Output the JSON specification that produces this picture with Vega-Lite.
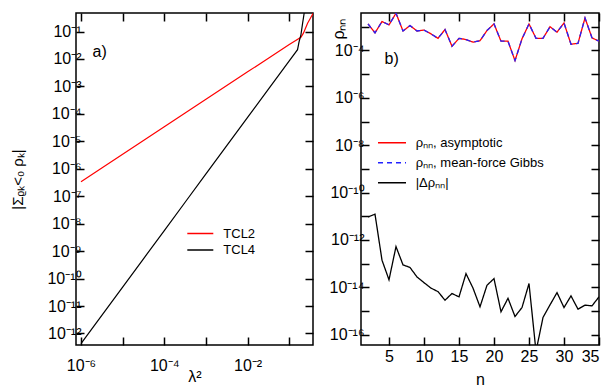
{
  "$schema": "https://vega.github.io/schema/vega-lite/v6.json",
  "padding": {"left": 10, "top": 11, "right": 0, "bottom": 0},
  "spacing": 48,
  "bounds": "flush",
  "resolve": {"scale": {"color": "independent", "strokeDash": "independent"}, "legend": {"color": "independent", "strokeDash": "independent"}},
  "config": {
    "font": "Liberation Sans",
    "view": {"stroke": "#000", "strokeWidth": 1.5},
    "axis": {"domain": false, "grid": false, "tickColor": "#000", "tickWidth": 1.5, "tickSize": -8, "labelFontSize": 16, "labelColor": "#000", "titleFontSize": 16, "titleColor": "#000", "titleFontWeight": "normal", "labelPadding": 4, "labelFont": "Liberation Sans", "titleFont": "Liberation Sans"},
    "legend": {"labelFontSize": 13, "labelColor": "#000", "labelFont": "Liberation Sans", "padding": 0, "symbolStrokeWidth": 1.5, "labelLimit": 300}
  },
  "hconcat": [
    {
      "width": 237,
      "height": 332,
      "data": {"values": [
        {"lam2": 1e-6, "val": 3.39e-7, "series": "TCL2"},
        {"lam2": 3.162e-6, "val": 1.07e-6, "series": "TCL2"},
        {"lam2": 1e-5, "val": 3.39e-6, "series": "TCL2"},
        {"lam2": 3.162e-5, "val": 1.07e-5, "series": "TCL2"},
        {"lam2": 1e-4, "val": 3.39e-5, "series": "TCL2"},
        {"lam2": 3.162e-4, "val": 1.07e-4, "series": "TCL2"},
        {"lam2": 1e-3, "val": 3.39e-4, "series": "TCL2"},
        {"lam2": 3.162e-3, "val": 1.07e-3, "series": "TCL2"},
        {"lam2": 1e-2, "val": 3.39e-3, "series": "TCL2"},
        {"lam2": 3.162e-2, "val": 1.07e-2, "series": "TCL2"},
        {"lam2": 0.1, "val": 3.39e-2, "series": "TCL2"},
        {"lam2": 0.1905, "val": 0.0617, "series": "TCL2"},
        {"lam2": 0.2188, "val": 0.0871, "series": "TCL2"},
        {"lam2": 0.2754, "val": 0.1995, "series": "TCL2"},
        {"lam2": 0.3802, "val": 0.479, "series": "TCL2"},
        {"lam2": 1e-6, "val": 4.27e-13, "series": "TCL4"},
        {"lam2": 3.162e-6, "val": 4.57e-12, "series": "TCL4"},
        {"lam2": 1e-5, "val": 4.9e-11, "series": "TCL4"},
        {"lam2": 3.162e-5, "val": 5.25e-10, "series": "TCL4"},
        {"lam2": 1e-4, "val": 5.62e-9, "series": "TCL4"},
        {"lam2": 3.162e-4, "val": 6.03e-8, "series": "TCL4"},
        {"lam2": 1e-3, "val": 6.46e-7, "series": "TCL4"},
        {"lam2": 3.162e-3, "val": 6.92e-6, "series": "TCL4"},
        {"lam2": 1e-2, "val": 7.41e-5, "series": "TCL4"},
        {"lam2": 3.162e-2, "val": 7.94e-4, "series": "TCL4"},
        {"lam2": 0.1, "val": 8.51e-3, "series": "TCL4"},
        {"lam2": 0.158, "val": 0.0219, "series": "TCL4"},
        {"lam2": 0.1718, "val": 0.0417, "series": "TCL4"},
        {"lam2": 0.1905, "val": 0.0759, "series": "TCL4"},
        {"lam2": 0.2089, "val": 0.1995, "series": "TCL4"},
        {"lam2": 0.2291, "val": 0.49, "series": "TCL4"}
      ]},
      "layer": [
        {
          "mark": {"type": "line", "strokeWidth": 1.2, "clip": true},
          "encoding": {
            "x": {"field": "lam2", "type": "quantitative",
              "scale": {"type": "log", "domain": [7.59e-7, 0.3715], "nice": false},
              "axis": {"orient": "bottom", "values": [1e-6, 1e-5, 1e-4, 1e-3, 1e-2, 1e-1], "labelPadding": 20,
                "labelExpr": "round(-log(datum.value)/LN10) % 2 == 0 ? '10⁻' + substring('⁰¹²³⁴⁵⁶⁷⁸⁹', round(-log(datum.value)/LN10) % 10, round(-log(datum.value)/LN10) % 10 + 1) : ''",
                "title": "λ²", "titleY": 36, "titleBaseline": "alphabetic"}},
            "y": {"field": "val", "type": "quantitative",
              "scale": {"type": "log", "domain": [3.8e-13, 0.473], "nice": false},
              "axis": {"orient": "left", "values": [1e-1, 1e-2, 1e-3, 1e-4, 1e-5, 1e-6, 1e-7, 1e-8, 1e-9, 1e-10, 1e-11, 1e-12], "labelPadding": 3,
                "labelExpr": "'10⁻' + (round(-log(datum.value)/LN10) >= 10 ? '¹' : '') + substring('⁰¹²³⁴⁵⁶⁷⁸⁹', round(-log(datum.value)/LN10) % 10, round(-log(datum.value)/LN10) % 10 + 1)",
                "title": "|Σᵨₖ<₀ ρₖ|", "titleFontSize": 15, "titlePadding": 21}},
            "color": {"field": "series", "type": "nominal",
              "scale": {"domain": ["TCL2", "TCL4"], "range": ["#ff0000", "#000000"]},
              "legend": {"orient": "none", "legendX": 116.8, "legendY": 213, "title": null, "symbolType": "M-2,0H2", "symbolSize": 169, "labelOffset": 15.5, "rowPadding": 1.5}}
          }
        },
        {
          "mark": {"type": "line", "strokeOpacity": 0},
          "encoding": {
            "x": {"field": "lam2", "type": "quantitative",
              "scale": {"type": "log", "domain": [7.59e-7, 0.3715], "nice": false},
              "axis": {"orient": "top", "values": [1e-6, 1e-5, 1e-4, 1e-3, 1e-2, 1e-1], "labels": false, "title": null}},
            "y": {"field": "val", "type": "quantitative",
              "scale": {"type": "log", "domain": [3.8e-13, 0.473], "nice": false},
              "axis": {"orient": "right", "values": [1e-1, 1e-2, 1e-3, 1e-4, 1e-5, 1e-6, 1e-7, 1e-8, 1e-9, 1e-10, 1e-11, 1e-12], "labels": false, "title": null}}
          }
        },
        {
          "data": {"values": [{"label": "a)"}]},
          "mark": {"type": "text", "align": "left", "baseline": "alphabetic", "fontSize": 16, "font": "Liberation Sans", "color": "#000"},
          "encoding": {
            "x": {"datum": 1.9e-6, "type": "quantitative", "axis": null},
            "y": {"datum": 0.0123, "type": "quantitative", "axis": null},
            "text": {"field": "label"}
          }
        }
      ]
    },
    {
      "width": 238,
      "height": 332,
      "data": {"values": [
        {"n": 2, "v": 1.318e-3, "s": "ρₙₙ, asymptotic"},
        {"n": 3, "v": 5.5e-4, "s": "ρₙₙ, asymptotic"},
        {"n": 4, "v": 1.66e-3, "s": "ρₙₙ, asymptotic"},
        {"n": 5, "v": 1.2e-3, "s": "ρₙₙ, asymptotic"},
        {"n": 6, "v": 3.72e-3, "s": "ρₙₙ, asymptotic"},
        {"n": 7, "v": 6.61e-4, "s": "ρₙₙ, asymptotic"},
        {"n": 8, "v": 1.12e-3, "s": "ρₙₙ, asymptotic"},
        {"n": 9, "v": 6.61e-4, "s": "ρₙₙ, asymptotic"},
        {"n": 10, "v": 7.24e-4, "s": "ρₙₙ, asymptotic"},
        {"n": 11, "v": 5.01e-4, "s": "ρₙₙ, asymptotic"},
        {"n": 12, "v": 3.24e-4, "s": "ρₙₙ, asymptotic"},
        {"n": 13, "v": 7.59e-4, "s": "ρₙₙ, asymptotic"},
        {"n": 14, "v": 1.51e-4, "s": "ρₙₙ, asymptotic"},
        {"n": 15, "v": 3.24e-4, "s": "ρₙₙ, asymptotic"},
        {"n": 16, "v": 2.88e-4, "s": "ρₙₙ, asymptotic"},
        {"n": 17, "v": 2.24e-4, "s": "ρₙₙ, asymptotic"},
        {"n": 18, "v": 2.57e-4, "s": "ρₙₙ, asymptotic"},
        {"n": 19, "v": 6.92e-4, "s": "ρₙₙ, asymptotic"},
        {"n": 20, "v": 1.318e-3, "s": "ρₙₙ, asymptotic"},
        {"n": 21, "v": 2.45e-4, "s": "ρₙₙ, asymptotic"},
        {"n": 22, "v": 2.45e-4, "s": "ρₙₙ, asymptotic"},
        {"n": 23, "v": 3.72e-5, "s": "ρₙₙ, asymptotic"},
        {"n": 24, "v": 3.09e-4, "s": "ρₙₙ, asymptotic"},
        {"n": 25, "v": 1.318e-3, "s": "ρₙₙ, asymptotic"},
        {"n": 26, "v": 3.24e-4, "s": "ρₙₙ, asymptotic"},
        {"n": 27, "v": 3.24e-4, "s": "ρₙₙ, asymptotic"},
        {"n": 28, "v": 1.0e-3, "s": "ρₙₙ, asymptotic"},
        {"n": 29, "v": 5.89e-4, "s": "ρₙₙ, asymptotic"},
        {"n": 30, "v": 1.445e-3, "s": "ρₙₙ, asymptotic"},
        {"n": 31, "v": 1.82e-4, "s": "ρₙₙ, asymptotic"},
        {"n": 32, "v": 2.0e-4, "s": "ρₙₙ, asymptotic"},
        {"n": 33, "v": 2.34e-3, "s": "ρₙₙ, asymptotic"},
        {"n": 34, "v": 3.39e-4, "s": "ρₙₙ, asymptotic"},
        {"n": 35, "v": 2.45e-4, "s": "ρₙₙ, asymptotic"},
        {"n": 2, "v": 1.318e-3, "s": "ρₙₙ, mean-force Gibbs"},
        {"n": 3, "v": 5.5e-4, "s": "ρₙₙ, mean-force Gibbs"},
        {"n": 4, "v": 1.66e-3, "s": "ρₙₙ, mean-force Gibbs"},
        {"n": 5, "v": 1.2e-3, "s": "ρₙₙ, mean-force Gibbs"},
        {"n": 6, "v": 3.72e-3, "s": "ρₙₙ, mean-force Gibbs"},
        {"n": 7, "v": 6.61e-4, "s": "ρₙₙ, mean-force Gibbs"},
        {"n": 8, "v": 1.12e-3, "s": "ρₙₙ, mean-force Gibbs"},
        {"n": 9, "v": 6.61e-4, "s": "ρₙₙ, mean-force Gibbs"},
        {"n": 10, "v": 7.24e-4, "s": "ρₙₙ, mean-force Gibbs"},
        {"n": 11, "v": 5.01e-4, "s": "ρₙₙ, mean-force Gibbs"},
        {"n": 12, "v": 3.24e-4, "s": "ρₙₙ, mean-force Gibbs"},
        {"n": 13, "v": 7.59e-4, "s": "ρₙₙ, mean-force Gibbs"},
        {"n": 14, "v": 1.51e-4, "s": "ρₙₙ, mean-force Gibbs"},
        {"n": 15, "v": 3.24e-4, "s": "ρₙₙ, mean-force Gibbs"},
        {"n": 16, "v": 2.88e-4, "s": "ρₙₙ, mean-force Gibbs"},
        {"n": 17, "v": 2.24e-4, "s": "ρₙₙ, mean-force Gibbs"},
        {"n": 18, "v": 2.57e-4, "s": "ρₙₙ, mean-force Gibbs"},
        {"n": 19, "v": 6.92e-4, "s": "ρₙₙ, mean-force Gibbs"},
        {"n": 20, "v": 1.318e-3, "s": "ρₙₙ, mean-force Gibbs"},
        {"n": 21, "v": 2.45e-4, "s": "ρₙₙ, mean-force Gibbs"},
        {"n": 22, "v": 2.45e-4, "s": "ρₙₙ, mean-force Gibbs"},
        {"n": 23, "v": 3.72e-5, "s": "ρₙₙ, mean-force Gibbs"},
        {"n": 24, "v": 3.09e-4, "s": "ρₙₙ, mean-force Gibbs"},
        {"n": 25, "v": 1.318e-3, "s": "ρₙₙ, mean-force Gibbs"},
        {"n": 26, "v": 3.24e-4, "s": "ρₙₙ, mean-force Gibbs"},
        {"n": 27, "v": 3.24e-4, "s": "ρₙₙ, mean-force Gibbs"},
        {"n": 28, "v": 1.0e-3, "s": "ρₙₙ, mean-force Gibbs"},
        {"n": 29, "v": 5.89e-4, "s": "ρₙₙ, mean-force Gibbs"},
        {"n": 30, "v": 1.445e-3, "s": "ρₙₙ, mean-force Gibbs"},
        {"n": 31, "v": 1.82e-4, "s": "ρₙₙ, mean-force Gibbs"},
        {"n": 32, "v": 2.0e-4, "s": "ρₙₙ, mean-force Gibbs"},
        {"n": 33, "v": 2.34e-3, "s": "ρₙₙ, mean-force Gibbs"},
        {"n": 34, "v": 3.39e-4, "s": "ρₙₙ, mean-force Gibbs"},
        {"n": 35, "v": 2.45e-4, "s": "ρₙₙ, mean-force Gibbs"},
        {"n": 2, "v": 9.33e-12, "s": "|Δρₙₙ|"},
        {"n": 3, "v": 1.23e-11, "s": "|Δρₙₙ|"},
        {"n": 4, "v": 1.41e-13, "s": "|Δρₙₙ|"},
        {"n": 5, "v": 2.09e-14, "s": "|Δρₙₙ|"},
        {"n": 6, "v": 5.25e-13, "s": "|Δρₙₙ|"},
        {"n": 7, "v": 8.91e-14, "s": "|Δρₙₙ|"},
        {"n": 8, "v": 6.92e-14, "s": "|Δρₙₙ|"},
        {"n": 9, "v": 2.75e-14, "s": "|Δρₙₙ|"},
        {"n": 10, "v": 1.58e-14, "s": "|Δρₙₙ|"},
        {"n": 11, "v": 9.33e-15, "s": "|Δρₙₙ|"},
        {"n": 12, "v": 6.61e-15, "s": "|Δρₙₙ|"},
        {"n": 13, "v": 2.88e-15, "s": "|Δρₙₙ|"},
        {"n": 14, "v": 5.5e-15, "s": "|Δρₙₙ|"},
        {"n": 15, "v": 3.98e-15, "s": "|Δρₙₙ|"},
        {"n": 16, "v": 3.8e-14, "s": "|Δρₙₙ|"},
        {"n": 17, "v": 9.33e-15, "s": "|Δρₙₙ|"},
        {"n": 18, "v": 1.51e-15, "s": "|Δρₙₙ|"},
        {"n": 19, "v": 1.23e-14, "s": "|Δρₙₙ|"},
        {"n": 20, "v": 2.34e-14, "s": "|Δρₙₙ|"},
        {"n": 21, "v": 9.33e-16, "s": "|Δρₙₙ|"},
        {"n": 22, "v": 3.47e-15, "s": "|Δρₙₙ|"},
        {"n": 23, "v": 5.89e-16, "s": "|Δρₙₙ|"},
        {"n": 24, "v": 1.41e-15, "s": "|Δρₙₙ|"},
        {"n": 25, "v": 1.45e-14, "s": "|Δρₙₙ|"},
        {"n": 26, "v": 2.0e-17, "s": "|Δρₙₙ|"},
        {"n": 27, "v": 5.37e-16, "s": "|Δρₙₙ|"},
        {"n": 28, "v": 1.82e-15, "s": "|Δρₙₙ|"},
        {"n": 29, "v": 6.03e-15, "s": "|Δρₙₙ|"},
        {"n": 30, "v": 1.41e-15, "s": "|Δρₙₙ|"},
        {"n": 31, "v": 4.37e-15, "s": "|Δρₙₙ|"},
        {"n": 32, "v": 1.2e-15, "s": "|Δρₙₙ|"},
        {"n": 33, "v": 1.78e-15, "s": "|Δρₙₙ|"},
        {"n": 34, "v": 1.66e-15, "s": "|Δρₙₙ|"},
        {"n": 35, "v": 3.98e-15, "s": "|Δρₙₙ|"}
      ]},
      "layer": [
        {
          "transform": [{"filter": "datum.s != 'ρₙₙ, mean-force Gibbs'"}],
          "mark": {"type": "line", "strokeWidth": 1.3, "clip": true},
          "encoding": {
            "x": {"field": "n", "type": "quantitative",
              "scale": {"domain": [1, 35], "nice": false, "zero": false},
              "axis": {"orient": "bottom", "values": [5, 10, 15, 20, 25, 30, 35], "labelPadding": 11, "title": "n", "titleY": 39, "titleBaseline": "alphabetic"}},
            "y": {"field": "v", "type": "quantitative",
              "scale": {"type": "log", "domain": [3.7e-17, 3.8e-3], "nice": false},
              "axis": {"orient": "left", "values": [1e-3, 1e-4, 1e-5, 1e-6, 1e-7, 1e-8, 1e-9, 1e-10, 1e-11, 1e-12, 1e-13, 1e-14, 1e-15, 1e-16], "labelPadding": 5,
                "labelExpr": "round(-log(datum.value)/LN10) % 2 == 0 ? '10⁻' + (round(-log(datum.value)/LN10) >= 10 ? '¹' : '') + substring('⁰¹²³⁴⁵⁶⁷⁸⁹', round(-log(datum.value)/LN10) % 10, round(-log(datum.value)/LN10) % 10 + 1) : ''",
                "title": "ρₙₙ", "titleX": -23, "titleY": 5, "titleAngle": -90, "titleAlign": "right", "titleBaseline": "middle"}},
            "color": {"field": "s", "type": "nominal",
              "scale": {"domain": ["ρₙₙ, asymptotic", "ρₙₙ, mean-force Gibbs", "|Δρₙₙ|"], "range": ["#ff0000", "#2222ff", "#000000"]},
              "legend": {"orient": "none", "legendX": 23, "legendY": 121.7, "title": null, "symbolType": "M-2,0H2", "symbolSize": 196, "labelOffset": 15.7, "rowPadding": 5}},
            "strokeDash": {"field": "s", "type": "nominal",
              "scale": {"domain": ["ρₙₙ, asymptotic", "ρₙₙ, mean-force Gibbs", "|Δρₙₙ|"], "range": [[1, 0], [5, 4], [1, 0]]},
              "legend": {"orient": "none", "legendX": 23, "legendY": 121.7, "title": null, "symbolType": "M-2,0H2", "symbolSize": 196, "labelOffset": 15.7, "rowPadding": 5}}
          }
        },
        {
          "transform": [{"filter": "datum.s == 'ρₙₙ, mean-force Gibbs'"}],
          "mark": {"type": "line", "strokeWidth": 1.3, "clip": true},
          "encoding": {
            "x": {"field": "n", "type": "quantitative", "scale": {"domain": [1, 35], "nice": false, "zero": false},
              "axis": {"orient": "top", "values": [5, 10, 15, 20, 25, 30, 35], "labels": false, "title": null}},
            "y": {"field": "v", "type": "quantitative", "scale": {"type": "log", "domain": [3.7e-17, 3.8e-3], "nice": false},
              "axis": {"orient": "right", "values": [1e-3, 1e-4, 1e-5, 1e-6, 1e-7, 1e-8, 1e-9, 1e-10, 1e-11, 1e-12, 1e-13, 1e-14, 1e-15, 1e-16], "labels": false, "title": null}},
            "color": {"field": "s", "type": "nominal"},
            "strokeDash": {"field": "s", "type": "nominal"}
          }
        },
        {
          "data": {"values": [{"label": "b)"}]},
          "mark": {"type": "text", "align": "left", "baseline": "alphabetic", "fontSize": 16, "font": "Liberation Sans", "color": "#000"},
          "encoding": {
            "x": {"datum": 4.37, "type": "quantitative", "axis": null},
            "y": {"datum": 2.7e-5, "type": "quantitative", "axis": null},
            "text": {"field": "label"}
          }
        }
      ]
    }
  ]
}
